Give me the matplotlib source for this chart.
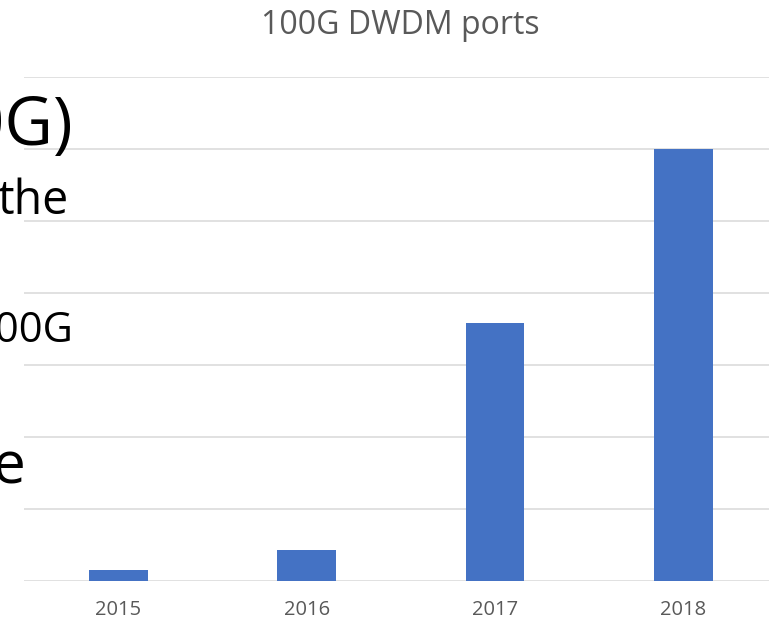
import matplotlib
matplotlib.use("Agg")
import matplotlib.pyplot as plt
import numpy as np

# chart data
years = ["2015", "2016", "2017", "2018"]
ports = [0.15, 0.43, 3.59, 6.0]
grid_levels = [0, 1, 2, 3, 4, 5, 6, 7]

# slide text cut off behind the chart (right ends only visible)
side_text = ["100G)", "the", "100G", "e"]

BAR_COLOR = "#4472C4"
GRID_COLOR = "#D9D9D9"
LABEL_COLOR = "#595959"

plt.rcParams['font.family'] = ['Open Sans', 'DejaVu Sans']

fig = plt.figure(figsize=(7.69, 6.22), dpi=100)
fig.patch.set_facecolor("white")

# axes spans past the right edge, like the cropped slide
ax = fig.add_axes([24.4 / 769, 41.3 / 622, 753 / 769, 503.3 / 622])
x = np.arange(len(years))
ax.bar(x, ports, width=0.313, color=BAR_COLOR, zorder=3)
for g in grid_levels:
    ax.axhline(g, color=GRID_COLOR, linewidth=1.1, zorder=1)

ax.set_xlim(-0.5, len(years) - 0.5)
ax.set_ylim(0, 7)
ax.set_xticks(x)
ax.set_xticklabels(years, fontsize=14.5, color=LABEL_COLOR)
ax.set_yticks([])
ax.tick_params(axis="x", length=0, pad=14)
for s in ax.spines.values():
    s.set_visible(False)
ax.patch.set_alpha(0)

fig.text(400 / 769, 1 - 34 / 622, "100G DWDM ports", ha="center", va="baseline",
         fontsize=23, color=LABEL_COLOR)

# fragments of the slide bullets on the left
fig.text(73 / 769, 1 - 145 / 622, side_text[0], ha="right", va="baseline",
         fontsize=48, color="black")
fig.text(68 / 769, 1 - 214 / 622, side_text[1], ha="right", va="baseline",
         fontsize=33.5, color="black")
fig.text(73 / 769, 1 - 342 / 622, side_text[2], ha="right", va="baseline",
         fontsize=30, color="black")
fig.text(25 / 769, 1 - 483 / 622, side_text[3], ha="right", va="baseline",
         fontsize=42, color="black")

fig.savefig("out.png", dpi=100)
